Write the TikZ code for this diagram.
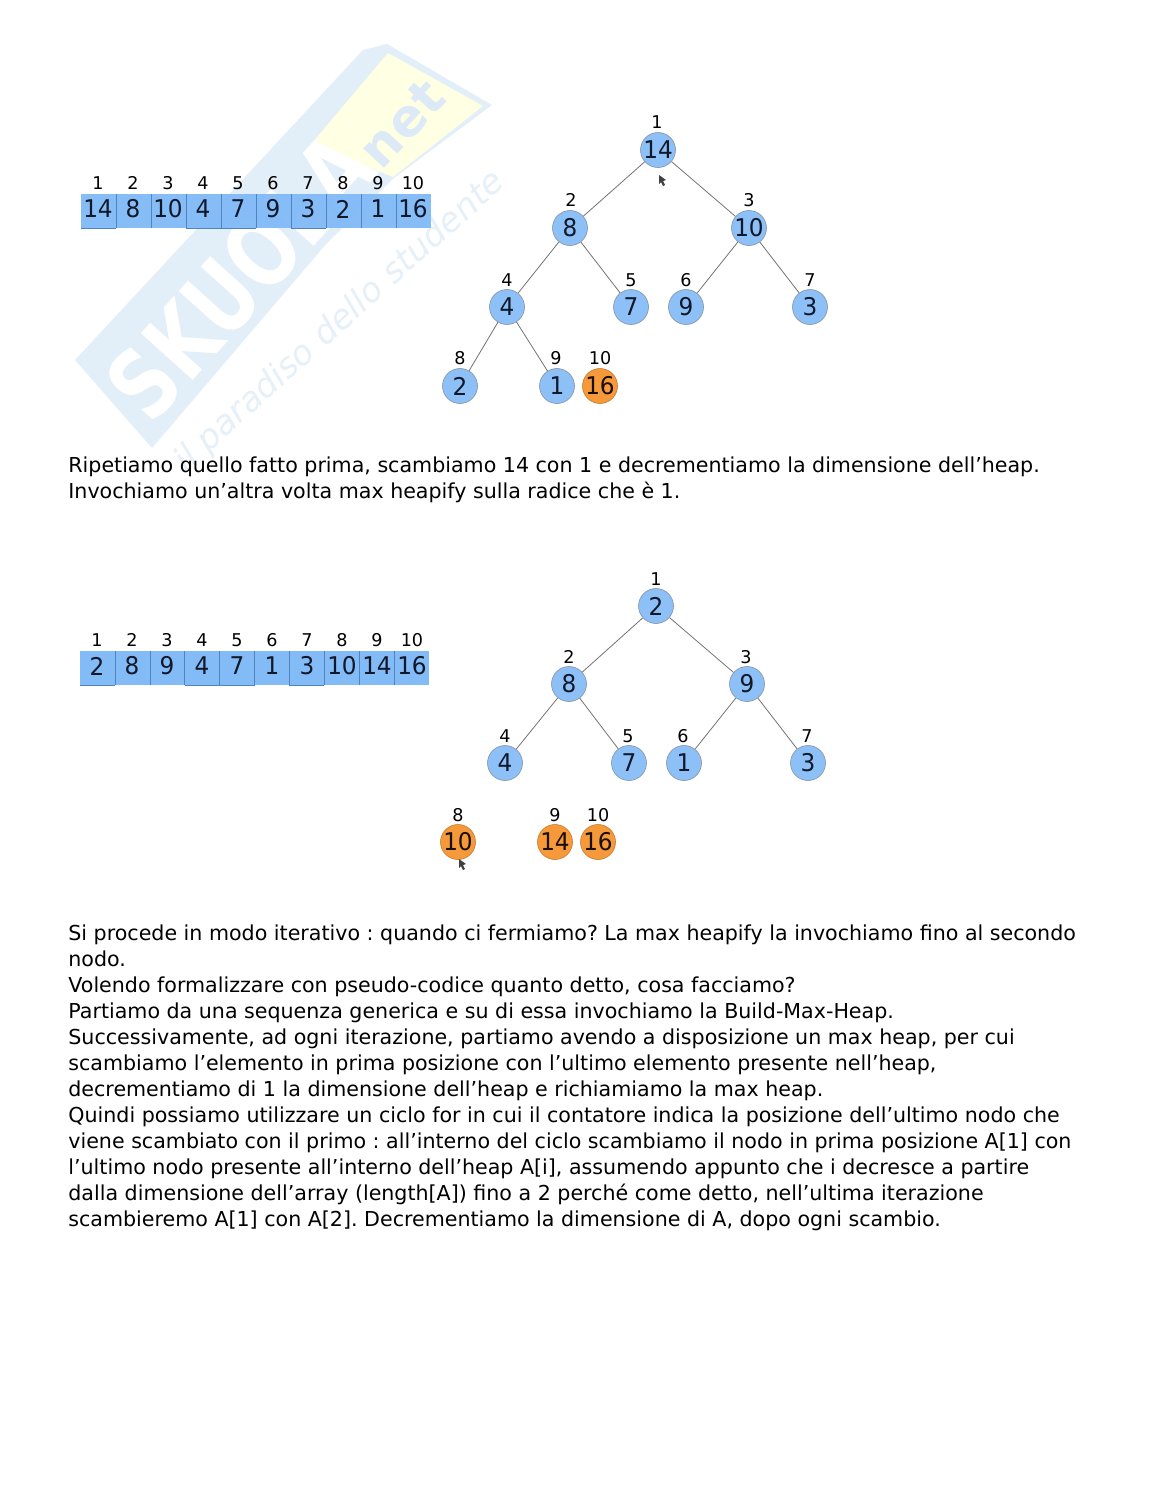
\documentclass[tikz,border=0pt]{standalone}
\usepackage{graphicx}
\usepackage{fontspec}
\setmainfont{DejaVu Sans}
\frenchspacing
\newcommand{\hv}[1]{\scalebox{0.95}[1]{#1}}
\definecolor{cellblue}{HTML}{7DB8F7}
\definecolor{nodeblue}{HTML}{8DC0F7}
\definecolor{nodeorange}{HTML}{F6993A}
\definecolor{wmblue}{HTML}{E3EFF8}
\definecolor{wmyellow}{HTML}{FFFFE4}
\definecolor{wmtext}{HTML}{E6F0F9}
\definecolor{wmnetc}{HTML}{DCEAF7}
\definecolor{gridblue}{HTML}{4F84BE}
\definecolor{inkdark}{HTML}{10182A}
\tikzset{
  x=0.5pt,y=-0.5pt,
  cellval/.style={inner sep=0pt,font=\fontsize{12.2}{14}\selectfont,text=inkdark},
  idx/.style={inner sep=0pt,font=\fontsize{8.8}{11}\selectfont,text=black},
  heapnode/.style={circle,draw=gray!70!nodeblue,line width=0.3pt,fill=nodeblue,minimum size=17.5pt,inner sep=0pt,font=\fontsize{12.2}{14}\selectfont,text=inkdark},
  heapdone/.style={heapnode,fill=nodeorange,draw=nodeorange!80!black,text=black!90!nodeorange},
  edge/.style={draw=black!55,line width=0.4pt},
  bodyline/.style={anchor=base west,inner sep=0pt,font=\fontsize{10.3}{13}\selectfont,text=black},
  gridline/.style={draw=gridblue,line width=0.3pt},
  cursormark/.style={fill=black!75,draw=none}
}
\begin{document}
\begin{tikzpicture}
\useasboundingbox (0,0) rectangle (1148,1485);
\fill[white] (0,0) rectangle (1148,1485);
% watermark
\fill[wmblue] (75,360) -- (363,50) -- (387,44) -- (492,105) -- (394,178) -- (327,243) -- (152,448) -- cycle;
\fill[wmyellow] (312,143) -- (388,53) -- (483,106) -- (393,177) -- cycle;
\node[rotate=48,inner sep=0pt,text=white,font=\fontsize{48}{50}\bfseries\selectfont] (wmsk) at (240,276) {\scalebox{0.78}[1]{SKUOLA}};
\node[rotate=47,inner sep=0pt,text=wmnetc,font=\fontsize{26}{28}\bfseries\selectfont] (wmnet) at (402,124) {net};
\node[rotate=42,inner sep=0pt,text=wmtext,font=\fontsize{17}{20}\itshape\selectfont] (wmsub) at (340,322) {il paradiso dello studente};
% array 1
\fill[cellblue,opacity=0.92] (81,194) rectangle (431,228);
\foreach \i in {1,...,9} \draw[gridline] ({81+35*\i},194) -- ({81+35*\i},228);
\foreach \i in {0,3,4,6} \draw[gridline] ({81+35*\i},228.5) -- ({116+35*\i},228.5);
\foreach \x/\n/\v in {98/1/14,133/2/8,168/3/10,203/4/4,238/5/7,273/6/9,308/7/3,343/8/2,378/9/1,413/10/16}{
  \node[idx] (al\n) at (\x,183) {\n};
  \node[cellval] (av\n) at (\x,209) {\hv{\v}};
}
% array 2
\fill[cellblue,opacity=0.95] (80,651) rectangle (429,685);
\foreach \i in {1,...,9} \draw[gridline] ({80+34.9*\i},651) -- ({80+34.9*\i},685);
\foreach \i in {0,3,4,6} \draw[gridline] ({80+34.9*\i},685.5) -- ({114.9+34.9*\i},685.5);
\foreach \x/\n/\v in {97/1/2,132/2/8,167/3/9,202/4/4,237/5/7,272/6/1,307/7/3,342/8/10,377/9/14,412/10/16}{
  \node[idx] (bl\n) at (\x,640) {\n};
  \node[cellval] (bv\n) at (\x,666) {\hv{\v}};
}
% tree 1
\node[heapnode] (t1) at (658,150) {\hv{14}};
\node[heapnode] (t2) at (570,228) {\hv{8}};
\node[heapnode] (t3) at (749,228) {\hv{10}};
\node[heapnode] (t4) at (507,307) {\hv{4}};
\node[heapnode] (t5) at (631,307) {\hv{7}};
\node[heapnode] (t6) at (686,307) {\hv{9}};
\node[heapnode] (t7) at (810,307) {\hv{3}};
\node[heapnode] (t8) at (460,386) {\hv{2}};
\node[heapnode] (t9) at (557,386) {\hv{1}};
\node[heapdone] (t10) at (600,386) {\hv{16}};
\foreach \a/\b in {t1/t2,t1/t3,t2/t4,t2/t5,t3/t6,t3/t7,t4/t8,t4/t9} \draw[edge] (\a) -- (\b);
\foreach \n/\x/\y in {1/657/122,2/571/200,3/749/200,4/507/280,5/631/280,6/686/280,7/810/280,8/460/358,9/556/358,10/600/358}
  \node[idx] (tl\n) at (\x,\y) {\n};
% tree 2
\node[heapnode] (u1) at (656,606) {\hv{2}};
\node[heapnode] (u2) at (569,684) {\hv{8}};
\node[heapnode] (u3) at (747,684) {\hv{9}};
\node[heapnode] (u4) at (505,763) {\hv{4}};
\node[heapnode] (u5) at (629,763) {\hv{7}};
\node[heapnode] (u6) at (684,763) {\hv{1}};
\node[heapnode] (u7) at (808,763) {\hv{3}};
\node[heapdone] (u8) at (458,842) {\hv{10}};
\node[heapdone] (u9) at (555,842) {\hv{14}};
\node[heapdone] (u10) at (598,842) {\hv{16}};
\foreach \a/\b in {u1/u2,u1/u3,u2/u4,u2/u5,u3/u6,u3/u7} \draw[edge] (\a) -- (\b);
\foreach \n/\x/\y in {1/656/579,2/569/657,3/746/657,4/505/736,5/628/736,6/683/736,7/807/736,8/458/815,9/555/815,10/598/815}
  \node[idx] (ul\n) at (\x,\y) {\n};
% pointers
\fill[cursormark] (659,175) -- (659,184) -- (661,182) -- (663,186) -- (665,185) -- (663,181) -- (666,180) -- cycle;
\fill[cursormark] (459,859) -- (459,868) -- (461,866) -- (463,870) -- (465,869) -- (463,865) -- (466,864) -- cycle;
% text
\node[bodyline] (p1) at (68,472) {Ripetiamo quello fatto prima, scambiamo 14 con 1 e decrementiamo la dimensione dell’heap.};
\node[bodyline] (p2) at (68,498) {Invochiamo un’altra volta max heapify sulla radice che è 1.};
\node[bodyline] (q1) at (68,940.5) {Si procede in modo iterativo : quando ci fermiamo? La max heapify la invochiamo fino al secondo};
\node[bodyline] (q2) at (68,966.5) {nodo.};
\node[bodyline] (q3) at (68,992.5) {Volendo formalizzare con pseudo-codice quanto detto, cosa facciamo?};
\node[bodyline] (q4) at (68,1018.5) {Partiamo da una sequenza generica e su di essa invochiamo la Build-Max-Heap.};
\node[bodyline] (q5) at (68,1044.5) {Successivamente, ad ogni iterazione, partiamo avendo a disposizione un max heap, per cui};
\node[bodyline] (q6) at (68,1070.5) {scambiamo l’elemento in prima posizione con l’ultimo elemento presente nell’heap,};
\node[bodyline] (q7) at (68,1096.5) {decrementiamo di 1 la dimensione dell’heap e richiamiamo la max heap.};
\node[bodyline] (q8) at (68,1122.5) {Quindi possiamo utilizzare un ciclo for in cui il contatore indica la posizione dell’ultimo nodo che};
\node[bodyline] (q9) at (68,1148.5) {viene scambiato con il primo : all’interno del ciclo scambiamo il nodo in prima posizione A[1] con};
\node[bodyline] (q10) at (68,1174.5) {l’ultimo nodo presente all’interno dell’heap A[i], assumendo appunto che i decresce a partire};
\node[bodyline] (q11) at (68,1200.5) {dalla dimensione dell’array (length[A]) fino a 2 perché come detto, nell’ultima iterazione};
\node[bodyline] (q12) at (68,1226.5) {scambieremo A[1] con A[2]. Decrementiamo la dimensione di A, dopo ogni scambio.};
\end{tikzpicture}
\end{document}
